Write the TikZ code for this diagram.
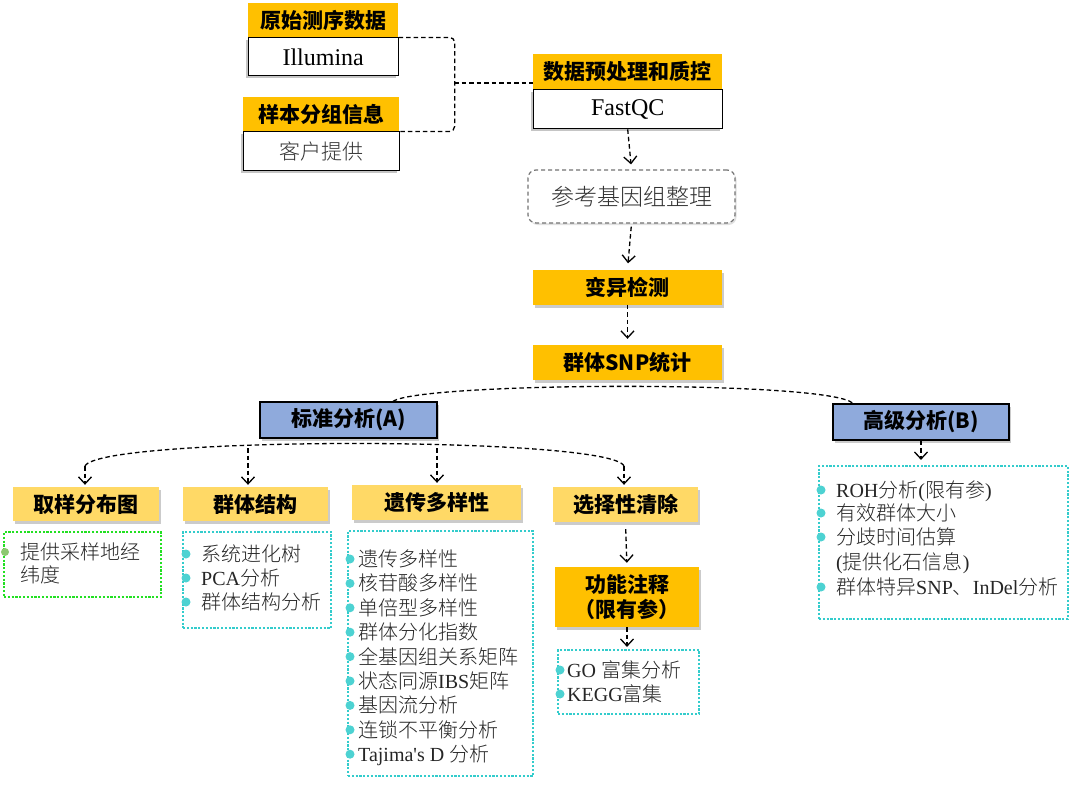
\documentclass[tikz,border=0pt]{standalone}
\usepackage{fontspec}
\setmainfont{Liberation Serif}
\newfontfamily\cjkh{Noto Sans CJK SC}
\IfFontExistsTF{Noto Sans CJK SC Light}{\newfontfamily\cjk{Noto Sans CJK SC Light}}{\newfontfamily\cjk{Noto Sans CJK SC}}
\newcommand\zhs[1]{{\cjk #1}}
\usetikzlibrary{shadows,arrows.meta,calc}
\definecolor{gold}{HTML}{FFC000}
\definecolor{lgold}{HTML}{FFD966}
\definecolor{blu}{HTML}{8FAADC}
\definecolor{cyn}{HTML}{33CCCC}
\definecolor{grn}{HTML}{22E022}
\definecolor{bulc}{HTML}{4DD2D2}
\definecolor{bulg}{HTML}{8CC870}
\definecolor{txt}{HTML}{262626}
\tikzset{
  dsh/.style={draw=black, line width=1.3pt, dash pattern=on 4.5pt off 3pt},
  arr/.style={dsh, -{Straight Barb[length=7pt,width=13pt,line width=1.3pt]}},
  hfont/.style={font=\cjkh\bfseries\fontsize{21}{25}\selectfont},
  hdr/.style={hfont, fill=gold, inner sep=0pt, anchor=north west},
  tbody/.style={draw=black, line width=0.9pt, fill=white, inner sep=0pt, anchor=north,
     drop shadow={shadow xshift=-2pt, shadow yshift=-2.5pt, fill=black!45, opacity=0.5}},
  goldbox/.style={hfont, fill=gold, inner sep=0pt,
     drop shadow={shadow xshift=2pt, shadow yshift=-3pt, fill=black!45, opacity=0.45}},
  lgbox/.style={goldbox, fill=lgold},
  bluebox/.style={hfont, fill=blu, draw=black, line width=1.2pt, inner sep=0pt,
     drop shadow={shadow xshift=2pt, shadow yshift=-2.5pt, fill=black!45, opacity=0.45}},
  listbox/.style={draw=cyn, line width=2.2pt, dash pattern=on 2.2pt off 1.6pt, inner sep=0pt},
  item/.style={anchor=west, inner sep=0pt, text height=16pt, text depth=1pt,
     font=\fontsize{20}{24}\selectfont, text=txt},
}
\begin{document}
\begin{tikzpicture}[x=1pt,y=-1pt]
\fill[white, use as bounding box] (0,0) rectangle (1080,790);

% top input boxes
\node[hdr, minimum width=150pt, minimum height=34pt] (h1) at (248,3) {原始测序数据};
\node[tbody, minimum width=150pt, minimum height=38pt, font=\fontsize{24}{28}\selectfont] (b1) at (h1.south) {Illumina};
\node[hdr, minimum width=156pt, minimum height=34pt] (h2) at (243,97) {样本分组信息};
\node[tbody, minimum width=156pt, minimum height=39pt, font=\cjk\fontsize{21}{25}\selectfont, text=black!80] (b2) at (h2.south) {客户提供};
\node[hdr, minimum width=189pt, minimum height=35pt] (h3) at (533,54) {数据预处理和质控};
\node[tbody, minimum width=189pt, minimum height=39pt, font=\fontsize{24}{28}\selectfont] (b3) at (h3.south) {FastQC};

\draw[dsh, rounded corners=5pt] (b1.north east) -- ++(56,0) |- (b2.north east);
\coordinate (brm) at (454,83);
\draw[dsh] (brm) -- (brm -| h3.west);

% main pipeline
\node[draw=black!55, line width=1.2pt, dash pattern=on 4pt off 3pt, rounded corners=8pt, fill=white,
      minimum width=207pt, minimum height=53pt, inner sep=0pt, font=\cjk\fontsize{23}{27}\selectfont, text=black!80,
      drop shadow={shadow xshift=1.5pt, shadow yshift=-2pt, fill=black!30, opacity=0.4}]
      (ref) at (631.5,196.5) {参考基因组整理};
\node[goldbox, minimum width=189pt, minimum height=35pt] (var) at (627.5,287) {变异检测};
\node[goldbox, minimum width=189pt, minimum height=35pt] (snp) at (627.5,362.5) {群体SNP统计};

\draw[arr, shorten >=5pt] (b3.south) -- (ref.north);
\draw[arr, shorten <=3pt, shorten >=6pt] (ref.south) -- (var.north);
\draw[arr, shorten >=6pt] (var.south) -- (snp.north);

% analysis branches
\node[bluebox, minimum width=177pt, minimum height=36pt] (std) at (348.5,420) {标准分析(A)};
\node[bluebox, minimum width=176pt, minimum height=36pt] (adv) at (921,422) {高级分析(B)};
\draw[dsh] ($(std.north)+(44.5,0)$) .. controls (420,382) and (830,380) .. ($(adv.north)+(-68,0)$);

% second level
\node[lgbox, minimum width=146pt, minimum height=34pt] (s1) at (86,504) {取样分布图};
\node[lgbox, minimum width=145pt, minimum height=34pt] (s2) at (255.5,504) {群体结构};
\node[lgbox, minimum width=169pt, minimum height=35pt] (s3) at (436.5,502.5) {遗传多样性};
\node[lgbox, minimum width=145pt, minimum height=35pt] (s4) at (625.5,504.5) {选择性清除};

\coordinate (aL) at (85,466);
\coordinate (aR) at (624,466);
\coordinate (a2) at (248,448);
\coordinate (a3) at (437,448);
\draw[dsh] (aL) .. controls (100,436) and (610,436) .. (aR);
\draw[arr, shorten >=2pt] (aL) -- (aL |- s1.north);
\draw[arr, shorten >=2pt] (a2) -- (a2 |- s2.north);
\draw[arr, shorten >=2pt] (a3) -- (a3 |- s3.north);
\draw[arr, shorten >=2pt] (aR) -- (aR |- s4.north);

% function annotation
\node[goldbox, minimum width=144pt, minimum height=60pt, align=center, font=\cjkh\bfseries\fontsize{21}{25}\selectfont] (f) at (627,597) {功能注释\\（限有参）};
\draw[arr, shorten <=7pt, shorten >=4pt] (s4.south) -- (f.north);

% list boxes
\node[listbox, draw=grn, minimum width=157pt, minimum height=65pt] (d1) at (82.5,564.5) {};
\node[listbox, minimum width=148pt, minimum height=96pt] (d2) at (257,580) {};
\node[listbox, minimum width=185pt, minimum height=245pt] (d3) at (440.5,653.5) {};
\node[listbox, minimum width=141pt, minimum height=64pt] (d4) at (628.5,682) {};
\node[listbox, minimum width=249pt, minimum height=153pt] (d5) at (943.5,542.5) {};

\draw[arr, shorten >=2pt] (f.south) -- (f.south |- d4.north);
\draw[arr, shorten >=5pt] (adv.south) -- (adv.south |- d5.north);

% d1
\fill[bulg] (5,552) circle (4pt);
\node[item] (t11) at (20,552) {\zhs{提供采样地经}};
\node[item] (t12) at (20,575) {\zhs{纬度}};

% d2
\foreach \yy in {554,578,602} \fill[bulc] (186,\yy) circle (4.5pt);
\node[item] (t21) at (201,554) {\zhs{系统进化树}};
\node[item] (t22) at (201,578) {PCA\zhs{分析}};
\node[item] (t23) at (201,602) {\zhs{群体结构分析}};

% d3
\foreach \yy in {559,583.4,607.8,632.2,656.6,681,705.4,729.8,754.2} \fill[bulc] (350,\yy) circle (4.5pt);
\node[item] (t31) at (358,559) {\zhs{遗传多样性}};
\node[item] (t32) at (358,583.4) {\zhs{核苷酸多样性}};
\node[item] (t33) at (358,607.8) {\zhs{单倍型多样性}};
\node[item] (t34) at (358,632.2) {\zhs{群体分化指数}};
\node[item] (t35) at (358,656.6) {\zhs{全基因组关系矩阵}};
\node[item] (t36) at (358,681) {\zhs{状态同源}IBS\zhs{矩阵}};
\node[item] (t37) at (358,705.4) {\zhs{基因流分析}};
\node[item] (t38) at (358,729.8) {\zhs{连锁不平衡分析}};
\node[item] (t39) at (358,754.2) {Tajima\textquotesingle s D \zhs{分析}};

% d4
\foreach \yy in {670,694} \fill[bulc] (560,\yy) circle (4.5pt);
\node[item] (t41) at (567,670) {GO \zhs{富集分析}};
\node[item] (t42) at (567,694) {KEGG\zhs{富集}};

% d5
\foreach \yy in {490,513,537,587} \fill[bulc] (821,\yy) circle (4.5pt);
\node[item] (t51) at (836,490) {ROH\zhs{分析}(\zhs{限有参})};
\node[item] (t52) at (836,513) {\zhs{有效群体大小}};
\node[item] (t53) at (836,537) {\zhs{分歧时间估算}};
\node[item] (t54) at (836,562) {(\zhs{提供化石信息})};
\node[item] (t55) at (836,587) {\zhs{群体特异}SNP\zhs{、}InDel\zhs{分析}};
\end{tikzpicture}
\end{document}
